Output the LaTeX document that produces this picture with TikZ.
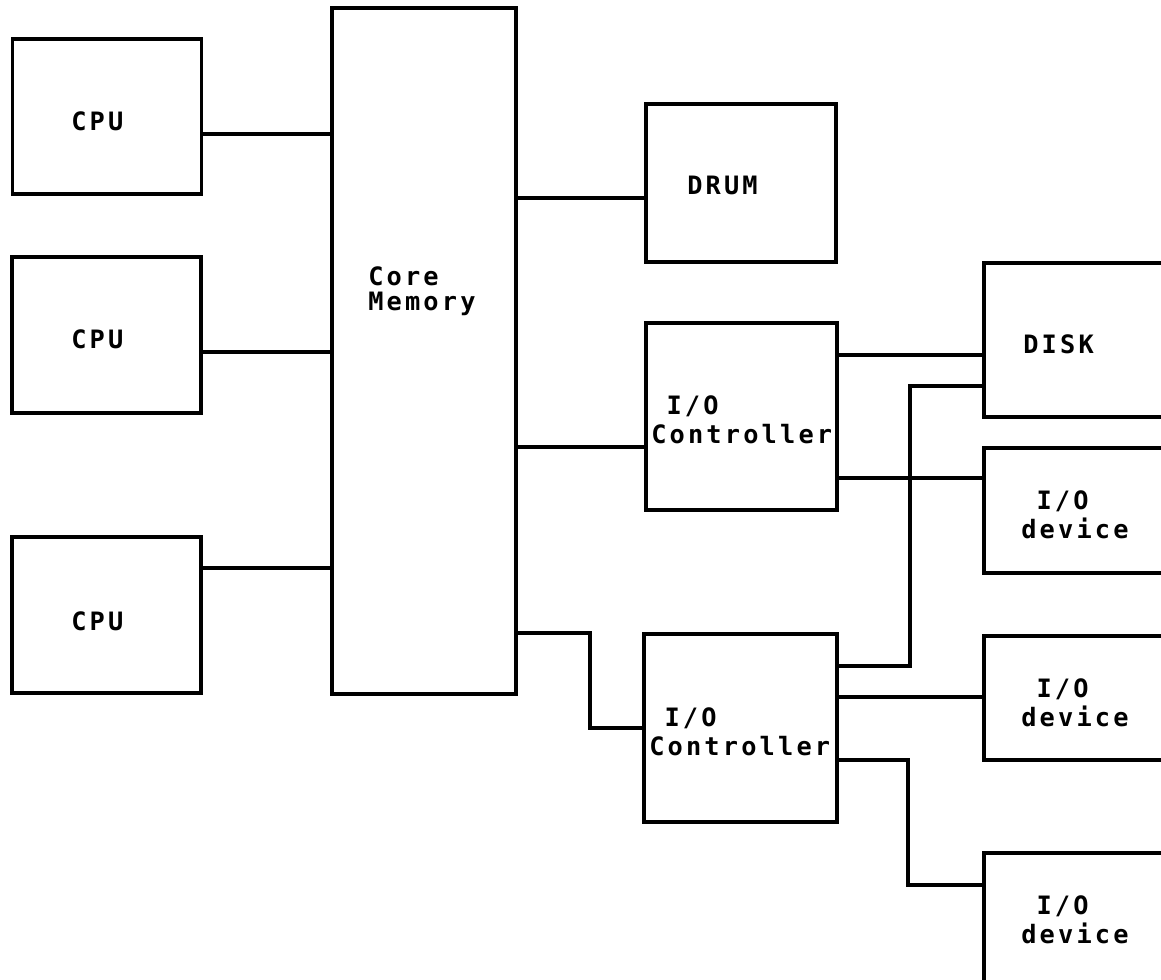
\documentclass[tikz,border=0pt]{standalone}
\usepackage{fontspec}
\newfontfamily\plotfont[LetterSpace=12.5]{DejaVu Sans Mono}
\usetikzlibrary{calc}

\begin{document}
\begin{tikzpicture}[x=0.025cm, y=-0.025cm,
  blk/.style={draw, line width=2.5pt, inner sep=0pt, outer sep=0pt},
  lbl/.style={anchor=west, inner sep=0pt, align=left,
              font=\plotfont\bfseries\fontsize{18}{20.6}\selectfont},
  wire/.style={line width=2.5pt, line join=miter}]

% Frame (page = reference size, right-hand boxes run off the edge)
\fill[white] (0,0) rectangle (1161,979);
\clip (0,0) rectangle (1161,979);

% ================================================================
% Processors and memory
% ================================================================
\node[blk, minimum width=4.725cm, minimum height=3.875cm] (cpuA) at (107,116.5) {};
\node[blk, minimum width=4.725cm, minimum height=3.9cm]   (cpuB) at (106.5,335) {};
\node[blk, minimum width=4.725cm, minimum height=3.9cm]   (cpuC) at (106.5,615) {};
\node[blk, minimum width=4.6cm,   minimum height=17.15cm] (mem)  at (424,351) {};

\node[lbl] (cpuAtxt) at (71,121) {CPU};
\node[lbl] (cpuBtxt) at (71,339) {CPU};
\node[lbl] (cpuCtxt) at (71,621) {CPU};
\node[lbl, font=\plotfont\bfseries\fontsize{18}{17.8}\selectfont]
  (memtxt) at (368,291) {Core\\Memory};

% ================================================================
% Drum and controllers
% ================================================================
\node[blk, minimum width=4.75cm,  minimum height=3.95cm] (drum) at (741,183) {};
\node[blk, minimum width=4.775cm, minimum height=4.675cm] (ctlA) at (741.5,416.5) {};
\node[blk, minimum width=4.825cm, minimum height=4.7cm]  (ctlB) at (740.5,728) {};

\node[lbl] (drumtxt) at (687,185) {DRUM};
\node[lbl] (ctlAtxt) at (651,420) {\hphantom{C}I/O\\Controller};
\node[lbl] (ctlBtxt) at (649,732) {\hphantom{C}I/O\\Controller};

% ================================================================
% Disk and devices (cut off at the right edge)
% ================================================================
\node[blk, minimum width=5cm, minimum height=3.85cm]  (disk) at (1084,340) {};
\node[blk, minimum width=5cm, minimum height=3.125cm] (devA) at (1084,510.5) {};
\node[blk, minimum width=5cm, minimum height=3.1cm]   (devB) at (1084,698) {};
\node[blk, minimum width=5cm, minimum height=3.675cm] (devC) at (1084,926.5) {};

\node[lbl] (disktxt) at (1023,344) {DISK};
\node[lbl] (devAtxt) at (1021,515) {\hphantom{d}I/O\\device};
\node[lbl] (devBtxt) at (1021,703) {\hphantom{d}I/O\\device};
\node[lbl] (devCtxt) at (1021,920) {\hphantom{d}I/O\\device};

% ================================================================
% Connections
% ================================================================
\draw[wire] (cpuA.east |- 0,134) -- (mem.west |- 0,134);
\draw[wire] (cpuB.east |- 0,352) -- (mem.west |- 0,352);
\draw[wire] (cpuC.east |- 0,568) -- (mem.west |- 0,568);

\draw[wire] (mem.east |- 0,198) -- (drum.west |- 0,198);
\draw[wire] (mem.east |- 0,447) -- (ctlA.west |- 0,447);
\draw[wire] (mem.east |- 0,633) -- (590,633) |- (ctlB.west);

\draw[wire] (ctlA.east |- 0,355) -- (disk.west |- 0,355);
\draw[wire] (ctlA.east |- 0,478) -- (devA.west |- 0,478);

\draw[wire] (ctlB.east |- 0,666) -- (910,666) |- (disk.west |- 0,386);
\draw[wire] (ctlB.east |- 0,697) -- (devB.west |- 0,697);
\draw[wire] (ctlB.east |- 0,760) -- (908,760) |- (devC.west |- 0,885);

\end{tikzpicture}
\end{document}
